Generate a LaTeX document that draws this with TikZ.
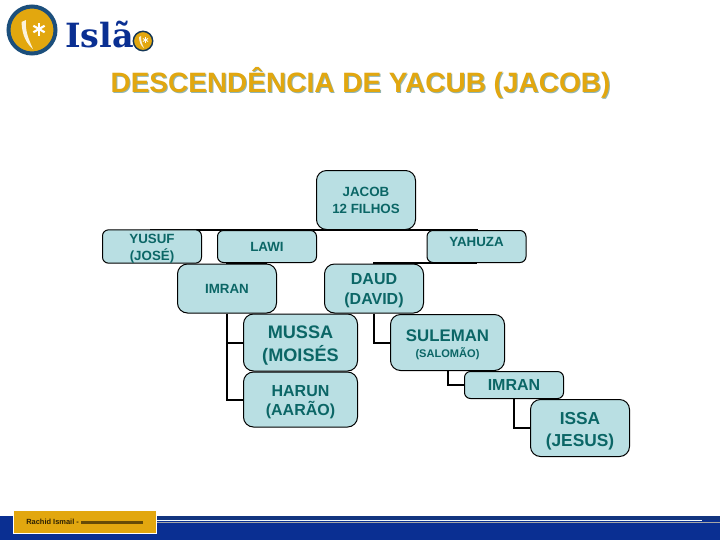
\documentclass[tikz,border=0pt]{standalone}
\usepackage{fontspec}
\setmainfont{Liberation Sans}
\newfontfamily\logofont{DejaVu Serif}
\definecolor{boxfill}{HTML}{B9DFE3}
\definecolor{boxtext}{HTML}{0B6666}
\definecolor{gold}{HTML}{E2A70F}
\definecolor{ringblue}{HTML}{1C4F7C}
\definecolor{bandblue}{HTML}{0A2F92}
\definecolor{banddark}{HTML}{12357F}
\definecolor{titleshadow}{HTML}{8FB5B5}
\tikzset{
  person/.style={draw=black,line width=0.75pt,fill=boxfill,rounded corners=7.5pt,text=boxtext,align=center,inner sep=0pt,font=\bfseries\fontsize{10}{12.7}\selectfont},
  flat/.style={rounded corners=4.5pt},
  link/.style={draw=black,line width=1.5pt},
  bus/.style={draw=black,line width=1.9pt},
  titletext/.style={font=\bfseries\fontsize{21}{23}\selectfont},
}
\newcommand{\personbox}[7][]{\node[person,minimum width=#4*0.75pt,minimum height=#5*0.75pt,#1] (#6) at (#2,#3) {#7};}
\newcommand{\lowered}[1]{\rule{0pt}{#1}}
\begin{document}
\begin{tikzpicture}[x=0.75pt,y=-0.75pt]
\useasboundingbox (0,0) rectangle (720,540);
\fill[white] (0,0) rectangle (720,540);
% free ends of the sibling bars
\coordinate (busL) at (150,230);
\coordinate (busR) at (478,230);
\coordinate (lawiL) at (226,263);
\coordinate (lawiR) at (267,263);
\coordinate (yahL) at (373,263);
\coordinate (yahR) at (477,263);
\draw[bus] (busL) -- (busR);
\draw[bus] (lawiL) -- (lawiR);
\draw[bus] (yahL) -- (yahR);
% nodes
\personbox{366}{200}{99}{59}{jacob}{JACOB\\12 FILHOS}
\personbox[flat]{152}{246.5}{99}{32}{yusuf}{\lowered{10.2pt}YUSUF\\(JOSÉ)}
\personbox[flat]{267}{246.5}{99}{32}{lawi}{LAWI}
\personbox[flat]{476.5}{246.5}{99}{32}{yahuza}{\raisebox{0pt}[0pt][0pt]{YAHUZA}}
\personbox{227}{288.5}{99}{49}{imran}{IMRAN}
\personbox[font=\bfseries\fontsize{12}{14.4}\selectfont]{374}{288.5}{99}{49}{daud}{\lowered{11.6pt}DAUD\\(DAVID)}
\personbox[font=\bfseries\fontsize{13.6}{17.2}\selectfont]{300.5}{342.5}{114}{57}{mussa}{\lowered{14.2pt}MUSSA\\(MOISÉS}
\personbox[font=\bfseries\fontsize{12}{14.5}\selectfont]{300.5}{399.5}{114}{55}{harun}{\lowered{12.4pt}HARUN\\(AARÃO)}
\personbox{447.5}{342.5}{114}{56}{suleman}{\raisebox{-9pt}[0pt][0pt]{\fontsize{12.6}{14}\selectfont SULEMAN}\\[7pt]\raisebox{-1.5pt}[0pt][0pt]{\fontsize{8.3}{9}\selectfont (SALOMÃO)}}
\personbox[flat,font=\bfseries\fontsize{12}{14}\selectfont]{514}{385}{99}{27}{imrantwo}{IMRAN}
\personbox[font=\bfseries\fontsize{13}{16.5}\selectfont]{580}{428}{99}{57}{issa}{\lowered{13.8pt}ISSA\\(JESUS)}
% elbow connectors
\draw[link] (imran.south) -- (imran.south |- mussa.west) -- (mussa.west);
\draw[link] (imran.south) -- (imran.south |- harun.west) -- (harun.west);
\draw[link] (daud.south) -- (daud.south |- suleman.west) -- (suleman.west);
\draw[link] (suleman.south) -- (suleman.south |- imrantwo.west) -- (imrantwo.west);
\draw[link] (imrantwo.south) -- (imrantwo.south |- issa.west) -- (issa.west);
% title
\node[text=titleshadow,titletext] at (361.5,84) {DESCENDÊNCIA DE YACUB (JACOB)};
\node[text=gold,titletext] (title) at (360.5,83) {DESCENDÊNCIA DE YACUB (JACOB)};
% logo
\filldraw[fill=gold,draw=ringblue,line width=3pt] (32,30) circle (23.5);
\fill[white!85!gold] (21.5,22) .. controls (22,36) and (27,44) .. (33,49) .. controls (28,38) and (25,30) .. (26,20) -- cycle;
\foreach \a in {90,150,210,270,330,30} \draw[white,line width=1.6pt] (39,29) -- ++(\a:6.5);
\node[text=bandblue,font=\logofont\bfseries\fontsize{25}{25}\selectfont,anchor=base west,inner sep=0pt] (brand) at (65,47.5) {Islã};
\filldraw[fill=gold,draw=ringblue!70!black,line width=1.1pt] (143,41) circle (9.7);
\fill[white!85!gold] (139,37) .. controls (139,42) and (141,46) .. (144,48) .. controls (142,44) and (141,41) .. (141,36) -- cycle;
\foreach \a in {90,150,210,270,330,30} \draw[white,line width=0.6pt] (145.5,40) -- ++(\a:3);
% footer
\fill[bandblue] (0,516) rectangle (720,540);
\fill[banddark] (157,516) rectangle (720,520);
\fill[white!80!boxfill] (157,520) rectangle (702,521.2);
\fill[gray!70] (157,522.2) rectangle (720,523.2);
\filldraw[fill=gold,draw=white,line width=0.75pt] (13,510) rectangle (156,533);
\node[text=black!80!gold,font=\bfseries\fontsize{5.6}{6}\selectfont,anchor=west,inner sep=0pt] (credit) at (26,522) {Rachid Ismail -};
\fill[black!55!gold] (81,520.5) rectangle (143,523.5);
\end{tikzpicture}
\end{document}
